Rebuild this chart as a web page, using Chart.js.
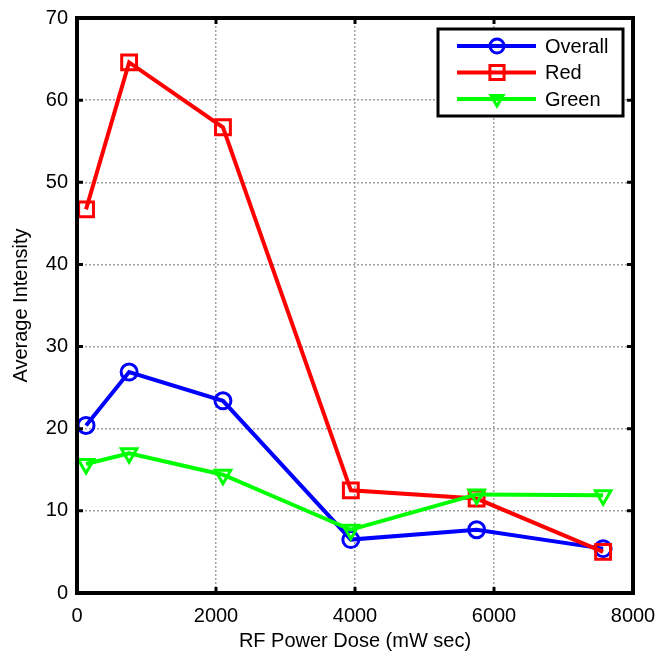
<!DOCTYPE html>
<html>
<head>
<meta charset="utf-8">
<script src="https://cdn.jsdelivr.net/npm/chart.js@4/dist/chart.umd.min.js"></script>
<style>
  html, body { margin: 0; padding: 0; background: #fff; }
  #wrap { width: 658px; height: 653px; }
</style>
</head>
<body>
<div id="wrap"><canvas id="dose-chart"></canvas></div>
<script>
// RF power dose (mW sec)
const dose = [130, 750, 2100, 3940, 5750, 7570];
const overall = [20.4, 26.9, 23.4, 6.5, 7.7, 5.4];
const red = [46.7, 64.6, 56.7, 12.5, 11.5, 5.0];
const green = [15.7, 17.0, 14.4, 7.7, 12.0, 11.9];
const xTicks = [0, 2000, 4000, 6000, 8000];
const yTicks = [0, 10, 20, 30, 40, 50, 60, 70];

const FONT = "'Liberation Sans', Arial, sans-serif";

function pts(ys) {
    return dose.map((x, i) => ({x: x, y: ys[i]}));
}

function marker(ctx, style, x, y, r) {
    ctx.beginPath();
    if (style === 'circle') {
        ctx.arc(x, y, r, 0, Math.PI * 2);
    } else if (style === 'rect') {
        const s = r * Math.SQRT1_2;
        ctx.rect(x - s, y - s, 2 * s, 2 * s);
    } else {
        // triangle pointing down
        const h = r;
        ctx.moveTo(x - h * 0.866, y - h * 0.5);
        ctx.lineTo(x + h * 0.866, y - h * 0.5);
        ctx.lineTo(x, y + h);
        ctx.closePath();
    }
    ctx.stroke();
}

// MATLAB style frame, inward ticks and legend box
const framePlugin = {
    id: 'frame',
    afterDatasetsDraw(chart) {
        const {ctx, chartArea: a, scales: {x, y}} = chart;
        ctx.save();
        ctx.strokeStyle = '#000';
        ctx.lineWidth = 3;
        xTicks.forEach(v => {
            const px = x.getPixelForValue(v);
            ctx.beginPath();
            ctx.moveTo(px, a.bottom); ctx.lineTo(px, a.bottom - 6);
            ctx.moveTo(px, a.top); ctx.lineTo(px, a.top + 6);
            ctx.stroke();
        });
        yTicks.forEach(v => {
            const py = y.getPixelForValue(v);
            ctx.beginPath();
            ctx.moveTo(a.left, py); ctx.lineTo(a.left + 6, py);
            ctx.moveTo(a.right, py); ctx.lineTo(a.right - 6, py);
            ctx.stroke();
        });
        ctx.lineWidth = 4;
        ctx.strokeRect(a.left, a.top, a.right - a.left, a.bottom - a.top);

        // legend
        const bx = 438, by = 29, bw = 185, bh = 87;
        ctx.fillStyle = '#fff';
        ctx.fillRect(bx, by, bw, bh);
        ctx.lineWidth = 3;
        ctx.strokeRect(bx, by, bw, bh);
        ctx.font = '20px ' + FONT;
        ctx.textBaseline = 'middle';
        chart.data.datasets.forEach((ds, i) => {
            const ly = by + 17 + i * 26.5;
            ctx.strokeStyle = ds.borderColor;
            ctx.lineWidth = 4;
            ctx.beginPath();
            ctx.moveTo(457, ly); ctx.lineTo(536, ly);
            ctx.stroke();
            ctx.lineWidth = 3;
            marker(ctx, ds.pointStyle, 497, ly, ds.legendRadius);
            ctx.fillStyle = '#000';
            ctx.fillText(ds.label, 545, ly + 1);
        });
        ctx.restore();
    }
};

const mkSet = (label, ys, color, style, r, order) => ({
    label: label,
    data: pts(ys),
    borderColor: color,
    backgroundColor: 'rgba(0,0,0,0)',
    borderWidth: 4,
    pointStyle: style,
    pointRadius: r,
    pointBorderWidth: 3,
    pointRotation: style === 'triangle' ? 180 : 0,
    legendRadius: style === 'rect' ? 10 : 7,
    order: order
});

new Chart(document.getElementById('dose-chart'), {
    type: 'line',
    data: {
        datasets: [
            mkSet('Overall', overall, '#0000ff', 'circle', 8, 3),
            mkSet('Red', red, '#ff0000', 'rect', 10.5, 2),
            mkSet('Green', green, '#00ff00', 'triangle', 9, 1)
        ]
    },
    options: {
        responsive: true,
        maintainAspectRatio: false,
        animation: false,
        layout: { padding: { top: 18, right: 25, left: 0, bottom: 0 } },
        plugins: {
            legend: { display: false },
            tooltip: { enabled: false }
        },
        scales: {
            x: {
                type: 'linear',
                min: 0,
                max: 8000,
                afterFit: (s) => { s.height = 60; s.paddingLeft = 0; s.paddingRight = 0; },
                afterBuildTicks: (s) => { s.ticks = xTicks.map(v => ({value: v})); },
                border: { display: false, dash: [2, 2] },
                grid: { color: '#a0a0a0', lineWidth: 1.5, drawTicks: false },
                ticks: {
                    color: '#000', padding: 11, maxRotation: 0,
                    font: { family: FONT, size: 20 },
                    callback: (v) => String(v)
                },
                title: {
                    display: true,
                    text: 'RF Power Dose (mW sec)',
                    color: '#000',
                    font: { family: FONT, size: 20 },
                    padding: { top: 0, bottom: 0 }
                }
            },
            y: {
                min: 0,
                max: 70,
                afterFit: (s) => { s.width = 77; s.paddingTop = 0; s.paddingBottom = 0; },
                afterBuildTicks: (s) => { s.ticks = yTicks.map(v => ({value: v})); },
                border: { display: false, dash: [2, 2] },
                grid: { color: '#a0a0a0', lineWidth: 1.5, drawTicks: false },
                ticks: { color: '#000', padding: 9, font: { family: FONT, size: 20 } },
                title: {
                    display: true,
                    text: 'Average Intensity',
                    color: '#000',
                    font: { family: FONT, size: 20 },
                    padding: { top: 9, bottom: 0 }
                }
            }
        }
    },
    plugins: [framePlugin]
});
</script>
</body>
</html>
